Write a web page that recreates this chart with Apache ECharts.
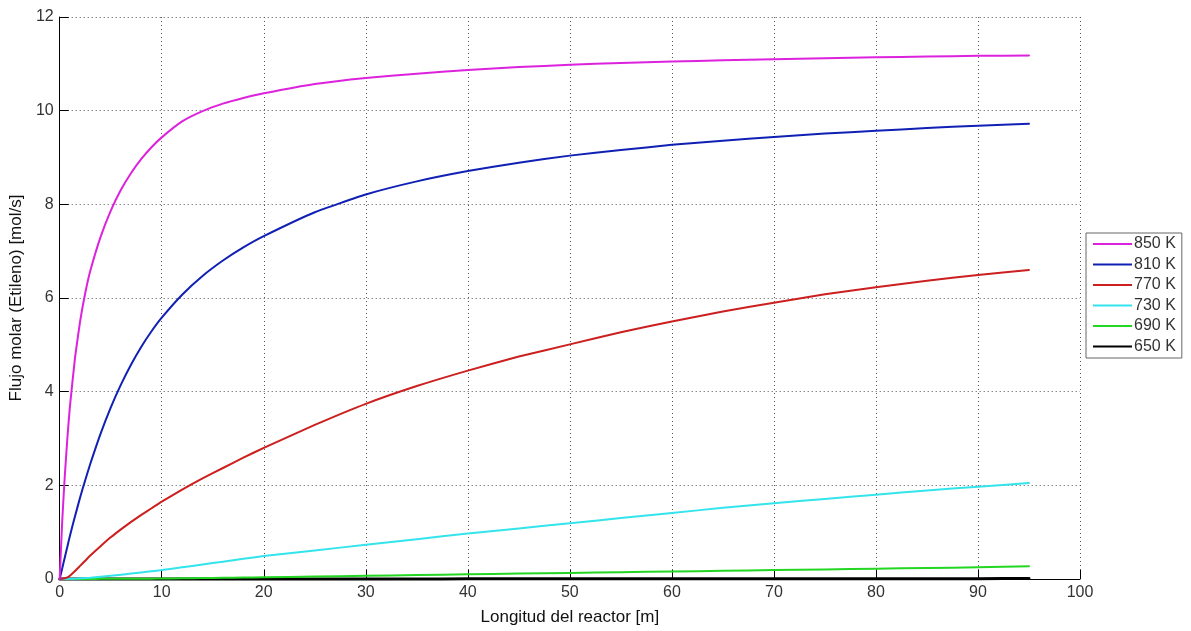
<!DOCTYPE html>
<html>
<head>
<meta charset="utf-8">
<script src="https://cdn.jsdelivr.net/npm/echarts@6/dist/echarts.min.js"></script>
<style>
  html, body { margin: 0; padding: 0; background: #fff; }
  #chart { width: 1191px; height: 631px; }
</style>
</head>
<body>
<div id="chart"></div>
<script>
// Molar flow of ethylene along the reactor, one curve per temperature
const seriesNames = ['850 K', '810 K', '770 K', '730 K', '690 K', '650 K'];
const seriesColors = ['#dd22dd', '#1020b4', '#cc1f1f', '#33e4ec', '#22d622', '#000000'];

// reactor length [m]
const length = [0, 0.25, 0.5, 0.75, 1, 1.5, 2, 2.5, 3, 4, 5, 6, 7, 8, 9, 10, 12, 14, 16, 18,
                20, 25, 30, 35, 40, 45, 50, 55, 60, 65, 70, 75, 80, 85, 90, 95];

// ethylene molar flow [mol/s]
const flow850 = [0, 1.25, 2.2, 3.0, 3.68, 4.72, 5.5, 6.1, 6.58, 7.3, 7.86, 8.31, 8.67, 8.97, 9.22, 9.43, 9.77, 9.99, 10.15, 10.27,
                 10.37, 10.57, 10.7, 10.79, 10.87, 10.93, 10.98, 11.02, 11.05, 11.075, 11.1, 11.12, 11.14, 11.155, 11.17, 11.18];
const flow810 = [0, 0.23, 0.46, 0.69, 0.92, 1.34, 1.74, 2.11, 2.46, 3.1, 3.66, 4.15, 4.58, 4.96, 5.29, 5.58, 6.07, 6.47, 6.8, 7.08,
                 7.32, 7.83, 8.21, 8.49, 8.71, 8.89, 9.04, 9.16, 9.27, 9.36, 9.44, 9.51, 9.57, 9.63, 9.68, 9.72];
const flow770 = [0, 0.004, 0.015, 0.035, 0.07, 0.17, 0.28, 0.39, 0.5, 0.7, 0.89, 1.06, 1.22, 1.37, 1.51, 1.65, 1.91, 2.15, 2.37, 2.59,
                 2.8, 3.29, 3.74, 4.12, 4.45, 4.75, 5.01, 5.27, 5.5, 5.71, 5.9, 6.08, 6.23, 6.37, 6.49, 6.6];
const flow730 = [0, 0, 0.001, 0.002, 0.004, 0.008, 0.014, 0.02, 0.028, 0.05, 0.07, 0.09, 0.115, 0.14, 0.165, 0.19, 0.25, 0.31, 0.37, 0.43,
                 0.49, 0.61, 0.73, 0.85, 0.97, 1.08, 1.19, 1.3, 1.41, 1.52, 1.62, 1.71, 1.8, 1.89, 1.97, 2.05];
const flow690 = [0, 0, 0, 0, 0, 0, 0.001, 0.001, 0.002, 0.003, 0.004, 0.005, 0.006, 0.007, 0.008, 0.01, 0.014, 0.019, 0.025, 0.031,
                 0.037, 0.053, 0.068, 0.084, 0.1, 0.115, 0.13, 0.145, 0.16, 0.175, 0.19, 0.205, 0.22, 0.235, 0.25, 0.27];
const flow650 = [0, 0, 0, 0, 0, 0, 0, 0, 0, 0, 0, 0, 0, 0, 0, 0, 0, 0, 0, 0,
                 0.001, 0.001, 0.002, 0.002, 0.003, 0.003, 0.004, 0.004, 0.005, 0.005, 0.006, 0.006, 0.007, 0.007, 0.008, 0.009];

const xTicks = [0, 10, 20, 30, 40, 50, 60, 70, 80, 90, 100];
const yTicks = [0, 2, 4, 6, 8, 10, 12];

const allFlows = [flow850, flow810, flow770, flow730, flow690, flow650];

const chart = echarts.init(document.getElementById('chart'), null, { renderer: 'canvas' });

const fontFamily = 'Liberation Sans, Arial, sans-serif';
const gridLine = { show: true, lineStyle: { color: '#555', width: 1, type: [1, 3] } };
const labelFont = { fontFamily: fontFamily, fontSize: 16, color: '#333' };
const nameFont = { fontFamily: fontFamily, fontSize: 17, color: '#111' };

chart.setOption({
  animation: false,
  backgroundColor: '#fff',
  grid: { left: 57, right: 111, top: 17, bottom: 50 },
  legend: {
    orient: 'vertical',
    left: 1086,
    top: 233,
    data: seriesNames,
    icon: 'rect',
    itemWidth: 39,
    itemHeight: 2,
    itemGap: 4.5,
    padding: [3, 6, 3.5, 7],
    borderColor: '#666',
    borderWidth: 1,
    backgroundColor: '#fff',
    textStyle: { fontFamily: fontFamily, fontSize: 16, color: '#333', padding: [0, 0, 0, -3], lineHeight: 16 }
  },
  xAxis: {
    type: 'value',
    min: 0, max: 100, interval: 10,
    name: 'Longitud del reactor [m]',
    nameLocation: 'middle',
    nameGap: 30,
    nameTextStyle: nameFont,
    axisLine: { show: true, onZero: false, lineStyle: { color: '#000', width: 1 } },
    axisTick: { show: true, inside: true, length: 9, lineStyle: { color: '#000' } },
    axisLabel: Object.assign({ margin: 6, formatter: v => xTicks.includes(v) ? String(v) : '' }, labelFont),
    splitLine: gridLine
  },
  yAxis: {
    type: 'value',
    min: 0, max: 12, interval: 2,
    name: 'Flujo molar (Etileno) [mol/s]',
    nameLocation: 'middle',
    nameGap: 32,
    nameTextStyle: nameFont,
    axisLine: { show: true, onZero: false, lineStyle: { color: '#000', width: 1 } },
    axisTick: { show: true, inside: true, length: 9, lineStyle: { color: '#000' } },
    axisLabel: Object.assign({ margin: 6, formatter: v => yTicks.includes(v) ? String(v) : '' }, labelFont),
    splitLine: gridLine
  },
  series: seriesNames.map((name, i) => ({
    name: name,
    type: 'line',
    data: length.map((x, j) => [x, allFlows[i][j]]),
    smooth: 0.15,
    showSymbol: false,
    symbol: 'none',
    clip: false,
    color: seriesColors[i],
    lineStyle: { color: seriesColors[i], width: i === 5 ? 3 : 2, join: 'round', cap: 'round' },
    z: 10 - i
  }))
});
</script>
</body>
</html>
